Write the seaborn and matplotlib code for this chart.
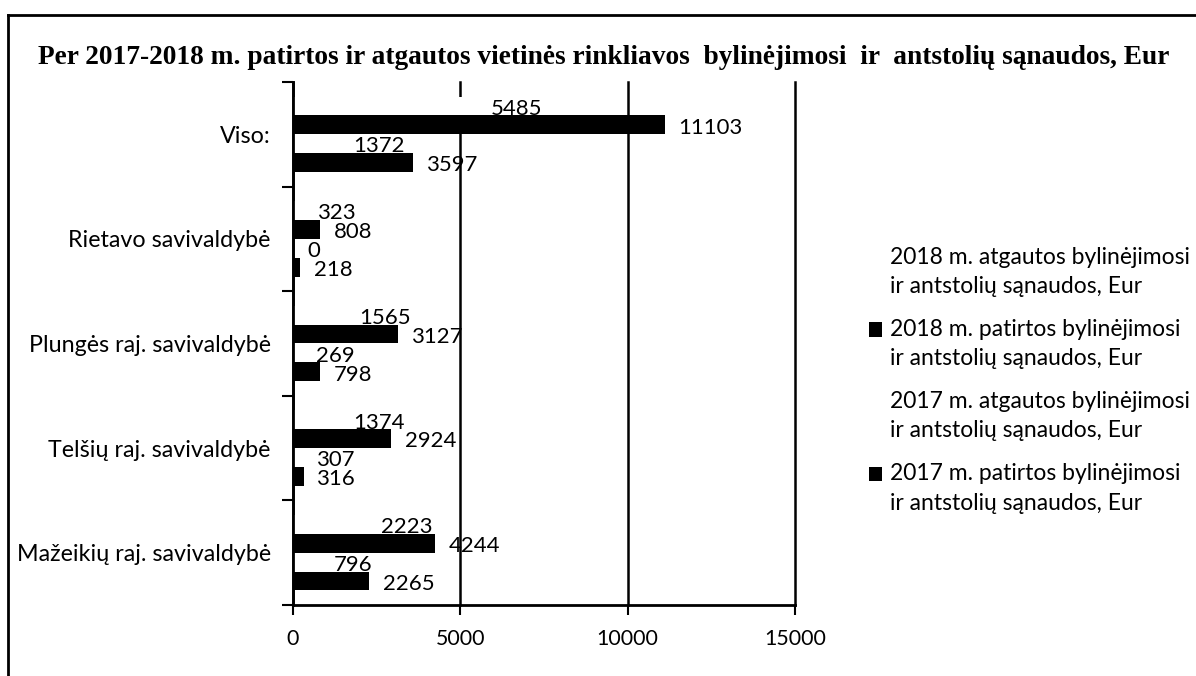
import matplotlib
matplotlib.use("Agg")
import matplotlib.pyplot as plt
from matplotlib.lines import Line2D
from matplotlib.patches import Rectangle
from matplotlib.legend_handler import HandlerPatch
import seaborn as sns
import pandas as pd

# ---- data ----
categories = ["Viso:", "Rietavo savivaldybė", "Plungės raj. savivaldybė",
              "Telšių raj. savivaldybė", "Mažeikių raj. savivaldybė"]
series_names = [
    "2018 m. atgautos bylinėjimosi\nir antstolių sąnaudos, Eur",
    "2018 m. patirtos bylinėjimosi\nir antstolių sąnaudos, Eur",
    "2017 m. atgautos bylinėjimosi\nir antstolių sąnaudos, Eur",
    "2017 m. patirtos bylinėjimosi\nir antstolių sąnaudos, Eur",
]
atgautos_2018 = [5485, 323, 1565, 1374, 2223]
patirtos_2018 = [11103, 808, 3127, 2924, 4244]
atgautos_2017 = [1372, 0, 269, 307, 796]
patirtos_2017 = [3597, 218, 798, 316, 2265]
x_ticks = [0, 5000, 10000, 15000]
title = "Per 2017-2018 m. patirtos ir atgautos vietinės rinkliavos  bylinėjimosi  ir  antstolių sąnaudos, Eur"

series_values = [atgautos_2018, patirtos_2018, atgautos_2017, patirtos_2017]
rows = []
for name, vals in zip(series_names, series_values):
    for c, v in zip(categories, vals):
        rows.append({"cat": c, "value": v, "series": name})
df = pd.DataFrame(rows)

FONT = "Lato"
plt.rcParams["font.family"] = [FONT, "DejaVu Sans"]

fig = plt.figure(figsize=(11.96, 6.76), dpi=100)
W, H = 1196, 676
renderer = fig.canvas.get_renderer()


def fit_size(s, target_px, family=FONT, weight="normal", base=20.0):
    t = fig.text(0, 0, s, fontsize=base, fontfamily=family, fontweight=weight)
    w = t.get_window_extent(renderer).width
    t.remove()
    return base * target_px / w


cat_fs = fit_size("Rietavo savivaldybė", 202)
val_fs = fit_size("11103", 64)
tick_fs = fit_size("15000", 62)
leg_fs = fit_size("2018 m. atgautos bylinėjimosi", 300)
title_fs = fit_size(title, 1130, family="Liberation Serif", weight="bold")

ax = fig.add_axes([293 / W, 1 - 605 / H, (795 - 293) / W, (605 - 82) / H])

palette = ["white", "black", "white", "black"]
sns.barplot(data=df, y="cat", x="value", hue="series", hue_order=series_names,
            order=categories, palette=palette, saturation=1, width=0.72,
            orient="h", linewidth=0, ax=ax, errorbar=None)

ax.set_xlim(0, 15000)
ax.set_ylim(4.5, -0.5)
ax.set_xticks(x_ticks)
ax.set_xticklabels([str(t) for t in x_ticks], fontsize=tick_fs)
ax.tick_params(axis="x", direction="out", length=7, width=1.5, pad=10, color="black")
ax.set_yticks(range(len(categories)))
ax.set_yticklabels(categories, fontsize=cat_fs)
ax.tick_params(axis="y", which="major", length=0, pad=16)
ax.set_yticks([i - 0.5 for i in range(len(categories) + 1)], minor=True)
ax.tick_params(axis="y", which="minor", length=8, width=1.5, direction="out", color="black")
ax.set_xlabel("")
ax.set_ylabel("")

ax.xaxis.grid(True, color="black", linewidth=1.8)
ax.yaxis.grid(False)
ax.set_axisbelow(True)
for gl in ax.get_xgridlines():
    gl.set_clip_on(False)
for s in ["top", "right"]:
    ax.spines[s].set_visible(False)
for s in ["left", "bottom"]:
    ax.spines[s].set_color("black")
    ax.spines[s].set_linewidth(2.0)
    ax.spines[s].set_zorder(5)
ax.set_facecolor("white")

for cont in ax.containers:
    anns = ax.bar_label(cont, labels=[f"{int(v)}" for v in cont.datavalues],
                        padding=10, fontsize=val_fs, color="black")
    for a in anns:
        a.xyann = (a.xyann[0], -2)

# legend
handles, labels = ax.get_legend_handles_labels()
if ax.get_legend() is not None:
    ax.get_legend().remove()
proxies = []
for h in handles:
    src = h.patches[0] if hasattr(h, "patches") else h
    proxies.append(Rectangle((0, 0), 1, 1, facecolor=src.get_facecolor(),
                             edgecolor="none", linewidth=0))


def raised_square(legend, orig_handle, xdescent, ydescent, width, height, fontsize):
    return Rectangle((-xdescent, -ydescent + 10.8), width, height)


leg = fig.legend(proxies, labels, loc="upper left",
                 bbox_to_anchor=(848 / W, 1 - 226 / H), frameon=False,
                 fontsize=leg_fs, handlelength=0.6, handleheight=0.6,
                 handletextpad=0.35, labelspacing=0.95,
                 handler_map={Rectangle: HandlerPatch(patch_func=raised_square)})
for t in leg.get_texts():
    t.set_linespacing(1.5)

fig.text(0.505, 1 - 58 / H, title, ha="center", va="center",
         fontfamily="Liberation Serif", fontweight="bold", fontsize=title_fs)

# figure frame (left and top)
fig.add_artist(Line2D([8 / W, 8 / W], [0, 1 - 15 / H], transform=fig.transFigure,
                      color="black", lw=2))
fig.add_artist(Line2D([8 / W, 1], [1 - 15 / H, 1 - 15 / H], transform=fig.transFigure,
                      color="black", lw=2))

fig.savefig("out.png", dpi=100)
